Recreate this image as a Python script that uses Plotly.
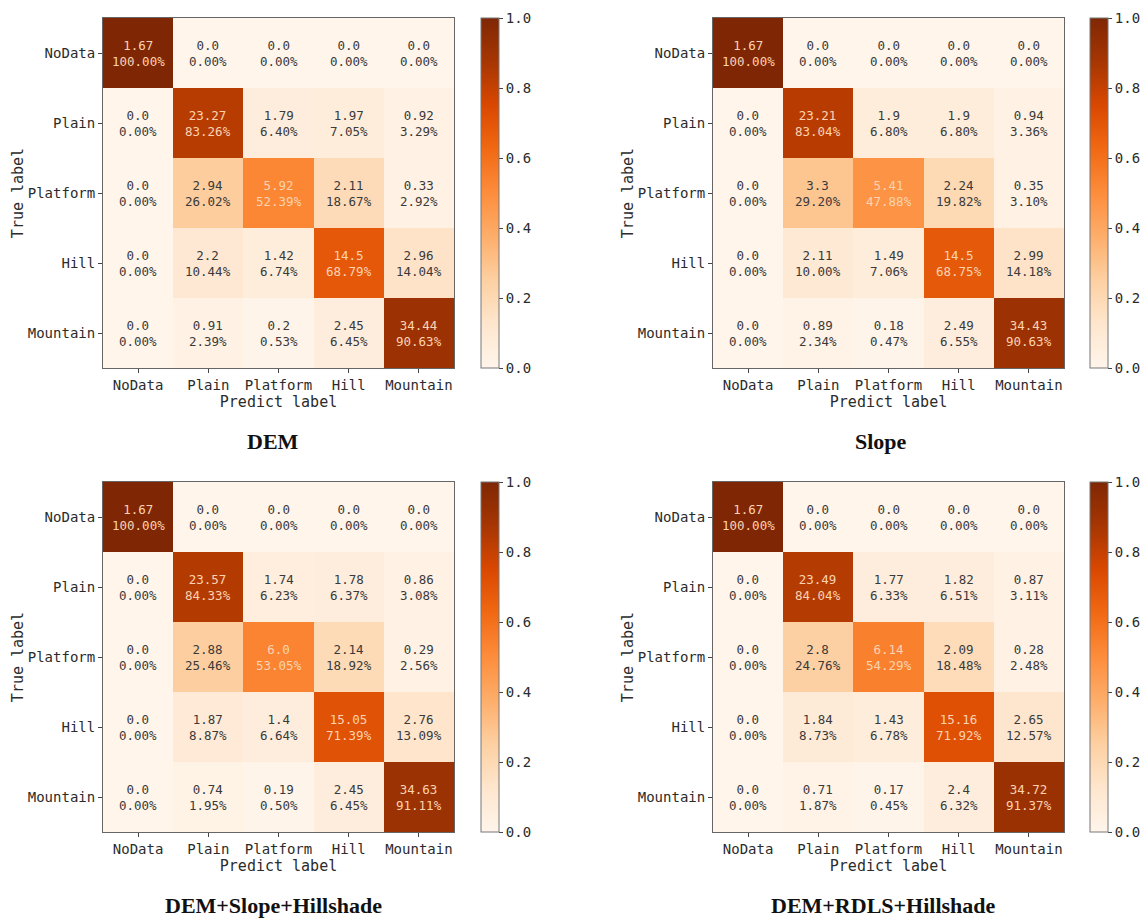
import plotly.graph_objects as go

# Class labels shared by all four confusion matrices
labels = ["NoData", "Plain", "Platform", "Hill", "Mountain"]

panel_titles = ["DEM", "Slope", "DEM+Slope+Hillshade", "DEM+RDLS+Hillshade"]

# Cell counts (row = true label, column = predicted label)
counts_dem = [
    [1.67, 0.0, 0.0, 0.0, 0.0],
    [0.0, 23.27, 1.79, 1.97, 0.92],
    [0.0, 2.94, 5.92, 2.11, 0.33],
    [0.0, 2.2, 1.42, 14.5, 2.96],
    [0.0, 0.91, 0.2, 2.45, 34.44],
]
pct_dem = [
    [100.00, 0.00, 0.00, 0.00, 0.00],
    [0.00, 83.26, 6.40, 7.05, 3.29],
    [0.00, 26.02, 52.39, 18.67, 2.92],
    [0.00, 10.44, 6.74, 68.79, 14.04],
    [0.00, 2.39, 0.53, 6.45, 90.63],
]

counts_slope = [
    [1.67, 0.0, 0.0, 0.0, 0.0],
    [0.0, 23.21, 1.9, 1.9, 0.94],
    [0.0, 3.3, 5.41, 2.24, 0.35],
    [0.0, 2.11, 1.49, 14.5, 2.99],
    [0.0, 0.89, 0.18, 2.49, 34.43],
]
pct_slope = [
    [100.00, 0.00, 0.00, 0.00, 0.00],
    [0.00, 83.04, 6.80, 6.80, 3.36],
    [0.00, 29.20, 47.88, 19.82, 3.10],
    [0.00, 10.00, 7.06, 68.75, 14.18],
    [0.00, 2.34, 0.47, 6.55, 90.63],
]

counts_dsh = [
    [1.67, 0.0, 0.0, 0.0, 0.0],
    [0.0, 23.57, 1.74, 1.78, 0.86],
    [0.0, 2.88, 6.0, 2.14, 0.29],
    [0.0, 1.87, 1.4, 15.05, 2.76],
    [0.0, 0.74, 0.19, 2.45, 34.63],
]
pct_dsh = [
    [100.00, 0.00, 0.00, 0.00, 0.00],
    [0.00, 84.33, 6.23, 6.37, 3.08],
    [0.00, 25.46, 53.05, 18.92, 2.56],
    [0.00, 8.87, 6.64, 71.39, 13.09],
    [0.00, 1.95, 0.50, 6.45, 91.11],
]

counts_drh = [
    [1.67, 0.0, 0.0, 0.0, 0.0],
    [0.0, 23.49, 1.77, 1.82, 0.87],
    [0.0, 2.8, 6.14, 2.09, 0.28],
    [0.0, 1.84, 1.43, 15.16, 2.65],
    [0.0, 0.71, 0.17, 2.4, 34.72],
]
pct_drh = [
    [100.00, 0.00, 0.00, 0.00, 0.00],
    [0.00, 84.04, 6.33, 6.51, 3.11],
    [0.00, 24.76, 54.29, 18.48, 2.48],
    [0.00, 8.73, 6.78, 71.92, 12.57],
    [0.00, 1.87, 0.45, 6.32, 91.37],
]

panels = [
    (counts_dem, pct_dem),
    (counts_slope, pct_slope),
    (counts_dsh, pct_dsh),
    (counts_drh, pct_drh),
]

W, H = 1141, 918
MONO = "DejaVu Sans Mono"
TXT = "#2b2b2b"

oranges = [
    [0.000, "rgb(255,245,235)"], [0.125, "rgb(254,230,206)"],
    [0.250, "rgb(253,208,162)"], [0.375, "rgb(253,174,107)"],
    [0.500, "rgb(253,141,60)"], [0.625, "rgb(241,105,19)"],
    [0.750, "rgb(217,72,1)"], [0.875, "rgb(166,54,3)"],
    [1.000, "rgb(127,39,4)"],
]

# pixel boxes of each heatmap: (left, top)
boxes = [(103, 18), (713, 18), (103, 482), (713, 482)]
SIDE_W, SIDE_H = 351, 350
cbar_left = [481, 1090, 481, 1090]
title_pos = [(273, 442), (881, 442), (273, 905), (883, 905)]

fig = go.Figure()
annotations = []

for i, ((cnt, pct), (left, top)) in enumerate(zip(panels, boxes)):
    n = i + 1
    xa = "x" if n == 1 else f"x{n}"
    ya = "y" if n == 1 else f"y{n}"
    z = [[p / 100.0 for p in row] for row in pct]
    fig.add_trace(go.Heatmap(
        z=z, x=labels, y=labels, xaxis=xa, yaxis=ya,
        colorscale=oranges, zmin=0, zmax=1, hoverinfo="skip",
        colorbar=dict(
            x=cbar_left[i] / W, xanchor="left", xpad=0, ypad=0,
            y=1 - (top + SIDE_H) / H, yanchor="bottom",
            len=SIDE_H / H, lenmode="fraction", thickness=18,
            outlinecolor="#777777", outlinewidth=1,
            tickvals=[0, 0.2, 0.4, 0.6, 0.8, 1.0], tickformat=".1f",
            ticks="outside", ticklen=4, tickcolor="#444444",
            tickfont=dict(family=MONO, size=14, color=TXT),
        ),
    ))
    x0, x1 = left / W, (left + SIDE_W) / W
    y0, y1 = 1 - (top + SIDE_H) / H, 1 - top / H
    axis_common = dict(
        showline=True, mirror=True, linecolor="#666666", linewidth=1,
        ticks="outside", ticklen=4, tickcolor="#444444",
        tickfont=dict(family=MONO, size=14, color=TXT),
        showgrid=False, zeroline=False, automargin=False,
    )
    fig.layout[f"xaxis{n if n > 1 else ''}"] = dict(
        domain=[x0, x1], anchor=ya,
        title=dict(text="Predict label", standoff=0,
                   font=dict(family=MONO, size=15, color=TXT)),
        **axis_common,
    )
    fig.layout[f"yaxis{n if n > 1 else ''}"] = dict(
        domain=[y0, y1], anchor=xa, autorange="reversed",
        title=dict(text="True label", standoff=0,
                   font=dict(family=MONO, size=15, color=TXT)),
        **axis_common,
    )
    # per-cell count and row percentage
    for r, row_lab in enumerate(labels):
        for c, col_lab in enumerate(labels):
            color = "#fbd3b2" if pct[r][c] >= 40 else "#3a3a3a"
            annotations.append(dict(
                x=col_lab, y=row_lab, xref=xa, yref=ya,
                text=f"{cnt[r][c]}<br>{pct[r][c]:.2f}%",
                showarrow=False,
                font=dict(family=MONO, size=12.5, color=color),
            ))
    tx, ty = title_pos[i]
    annotations.append(dict(
        x=tx / W, y=1 - ty / H, xref="paper", yref="paper",
        text=f"<b>{panel_titles[i]}</b>", showarrow=False,
        xanchor="center", yanchor="middle",
        font=dict(family="Liberation Serif", size=22, color="#111111"),
    ))

fig.update_layout(
    width=W, height=H,
    margin=dict(l=0, r=0, t=0, b=0),
    paper_bgcolor="white", plot_bgcolor="white",
    annotations=annotations,
    showlegend=False,
)

fig.write_html("out.html")
